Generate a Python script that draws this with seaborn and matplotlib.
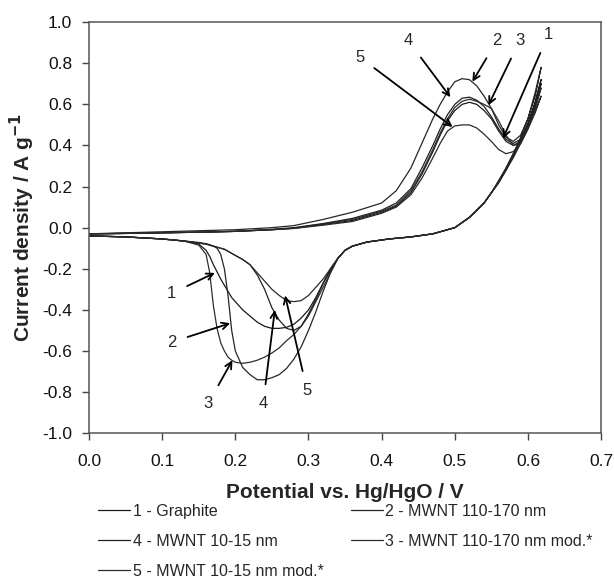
import numpy as np
import pandas as pd
import matplotlib
matplotlib.use('Agg')
import matplotlib.pyplot as plt
from matplotlib.lines import Line2D
import seaborn as sns

# ── Données ────────────────────────────────────────────────
# balayage aller (anodique) : grille commune de potentiel
fwd_x = [0.0, 0.05, 0.10, 0.15, 0.20, 0.25, 0.28, 0.32, 0.36, 0.40, 0.42, 0.44, 0.455,
         0.47, 0.48, 0.49, 0.50, 0.51, 0.52, 0.53, 0.54, 0.55, 0.56, 0.57, 0.58, 0.59,
         0.60, 0.61, 0.618]
# balayage retour (cathodique)
rev_x = [0.618, 0.61, 0.60, 0.59, 0.58, 0.57, 0.56, 0.55, 0.54, 0.52, 0.50, 0.47, 0.44,
         0.41, 0.38, 0.36, 0.35, 0.34, 0.33, 0.32, 0.31, 0.30, 0.29, 0.28, 0.27, 0.26,
         0.25, 0.24, 0.23, 0.22, 0.21, 0.20, 0.195, 0.19, 0.185, 0.18, 0.175, 0.17,
         0.165, 0.16, 0.15, 0.13, 0.10, 0.05, 0.0]

# 1 - Graphite
fwd_1 = [-0.03, -0.028, -0.025, -0.022, -0.018, -0.01, -0.003, 0.015, 0.035, 0.075, 0.105,
         0.17, 0.26, 0.37, 0.45, 0.52, 0.57, 0.60, 0.61, 0.60, 0.57, 0.53, 0.47, 0.42,
         0.40, 0.42, 0.50, 0.61, 0.72]
rev_1 = [0.72, 0.61, 0.51, 0.43, 0.36, 0.29, 0.23, 0.17, 0.12, 0.05, 0.0, -0.03, -0.045,
         -0.055, -0.07, -0.09, -0.11, -0.15, -0.20, -0.27, -0.34, -0.40, -0.44, -0.47,
         -0.485, -0.49, -0.49, -0.48, -0.46, -0.43, -0.40, -0.36, -0.34, -0.31, -0.28,
         -0.25, -0.215, -0.18, -0.14, -0.11, -0.08, -0.065, -0.055, -0.045, -0.04]

# 2 - MWNT 110-170 nm
fwd_2 = [-0.03, -0.025, -0.02, -0.015, -0.01, 0.0, 0.01, 0.04, 0.075, 0.12, 0.18, 0.29,
         0.41, 0.53, 0.60, 0.66, 0.71, 0.725, 0.72, 0.69, 0.64, 0.58, 0.50, 0.44, 0.42,
         0.45, 0.53, 0.64, 0.78]
rev_2 = [0.78, 0.66, 0.53, 0.44, 0.36, 0.29, 0.22, 0.17, 0.12, 0.05, 0.0, -0.03, -0.045,
         -0.055, -0.07, -0.09, -0.11, -0.15, -0.22, -0.31, -0.41, -0.50, -0.58, -0.64,
         -0.685, -0.715, -0.73, -0.74, -0.74, -0.715, -0.68, -0.60, -0.50, -0.33, -0.20,
         -0.13, -0.10, -0.09, -0.083, -0.078, -0.072, -0.065, -0.055, -0.045, -0.04]

# 3 - MWNT 110-170 nm mod.*
fwd_3 = [-0.03, -0.028, -0.025, -0.022, -0.018, -0.01, -0.002, 0.018, 0.04, 0.08, 0.11,
         0.18, 0.27, 0.38, 0.46, 0.53, 0.585, 0.615, 0.625, 0.615, 0.60, 0.58, 0.52, 0.45,
         0.40, 0.41, 0.48, 0.58, 0.68]
rev_3 = [0.68, 0.59, 0.50, 0.42, 0.35, 0.28, 0.22, 0.17, 0.12, 0.05, 0.0, -0.03, -0.045,
         -0.055, -0.07, -0.09, -0.11, -0.15, -0.22, -0.29, -0.36, -0.43, -0.48, -0.52,
         -0.55, -0.585, -0.61, -0.63, -0.645, -0.655, -0.66, -0.655, -0.645, -0.63, -0.60,
         -0.56, -0.49, -0.38, -0.22, -0.13, -0.085, -0.065, -0.055, -0.045, -0.04]

# 4 - MWNT 10-15 nm
fwd_4 = [-0.03, -0.028, -0.025, -0.022, -0.018, -0.008, 0.0, 0.02, 0.045, 0.085, 0.12,
         0.19, 0.29, 0.40, 0.48, 0.55, 0.60, 0.63, 0.635, 0.62, 0.59, 0.54, 0.48, 0.43,
         0.41, 0.43, 0.50, 0.60, 0.70]
rev_4 = [0.70, 0.60, 0.50, 0.42, 0.35, 0.28, 0.22, 0.17, 0.12, 0.05, 0.0, -0.03, -0.045,
         -0.055, -0.07, -0.09, -0.11, -0.15, -0.21, -0.27, -0.35, -0.42, -0.48, -0.50,
         -0.49, -0.45, -0.39, -0.30, -0.23, -0.18, -0.155, -0.135, -0.125, -0.115, -0.105,
         -0.10, -0.095, -0.09, -0.085, -0.08, -0.075, -0.065, -0.055, -0.045, -0.04]

# 5 - MWNT 10-15 nm mod.*
fwd_5 = [-0.03, -0.028, -0.025, -0.022, -0.018, -0.01, -0.004, 0.012, 0.03, 0.07, 0.10,
         0.16, 0.24, 0.34, 0.41, 0.47, 0.495, 0.50, 0.50, 0.485, 0.455, 0.42, 0.38, 0.36,
         0.37, 0.41, 0.48, 0.56, 0.64]
rev_5 = [0.64, 0.57, 0.49, 0.41, 0.34, 0.28, 0.22, 0.17, 0.12, 0.05, 0.0, -0.03, -0.045,
         -0.055, -0.07, -0.09, -0.11, -0.15, -0.20, -0.25, -0.29, -0.33, -0.355, -0.36,
         -0.355, -0.33, -0.30, -0.26, -0.22, -0.18, -0.155, -0.135, -0.125, -0.115, -0.105,
         -0.10, -0.095, -0.09, -0.085, -0.08, -0.075, -0.065, -0.055, -0.045, -0.04]

labels = ['1 - Graphite', '2 - MWNT 110-170 nm', '3 - MWNT 110-170 nm mod.*',
          '4 - MWNT 10-15 nm', '5 - MWNT 10-15 nm mod.*']
fwd_all = [fwd_1, fwd_2, fwd_3, fwd_4, fwd_5]
rev_all = [rev_1, rev_2, rev_3, rev_4, rev_5]
colors = ['#1a1a1a', '#262626', '#2e2e2e', '#202020', '#2a2a2a']

x_ticks = [0.0, 0.1, 0.2, 0.3, 0.4, 0.5, 0.6, 0.7]
y_ticks = [-1.0, -0.8, -0.6, -0.4, -0.2, 0.0, 0.2, 0.4, 0.6, 0.8, 1.0]

# annotations : (texte, position du texte, pointe de la flèche)
ann_num  = ['1', '2', '3', '4', '5', '1', '2', '3', '4', '5']
ann_text = [(0.628, 0.94), (0.558, 0.912), (0.589, 0.912), (0.436, 0.912), (0.370, 0.83),
            (0.113, -0.32), (0.113, -0.557), (0.163, -0.855), (0.238, -0.855), (0.298, -0.79)]
ann_tip  = [(0.566, 0.435), (0.524, 0.71), (0.546, 0.596), (0.494, 0.635), (0.497, 0.49),
            (0.172, -0.22), (0.193, -0.465), (0.196, -0.645), (0.254, -0.40), (0.268, -0.33)]

# ── Table longue pour seaborn ──────────────────────────────
rows = []
for lab, fy, ry in zip(labels, fwd_all, rev_all):
    xs = fwd_x + rev_x
    ys = fy + ry
    for i, (x, y) in enumerate(zip(xs, ys)):
        rows.append({'E': x, 'j': y, 'courbe': lab, 'ordre': i})
df = pd.DataFrame(rows)

sns.set_style('ticks')
plt.rcParams['font.family'] = ['Liberation Sans', 'DejaVu Sans']

fig = plt.figure(figsize=(6.14, 5.83), dpi=100)
ax = fig.add_axes([0.145, 0.257, 0.834, 0.705])

sns.lineplot(data=df, x='E', y='j', hue='courbe', hue_order=labels,
             palette=colors, sort=False, estimator=None, lw=0.9,
             legend=False, ax=ax)

ax.set_xlim(0.0, 0.7)
ax.set_ylim(-1.0, 1.0)
ax.set_xticks(x_ticks)
ax.set_yticks(y_ticks)
ax.set_xticklabels([f'{v:.1f}' for v in x_ticks])
ax.set_yticklabels([f'{v:.1f}' for v in y_ticks])
ax.tick_params(direction='out', length=5, width=1, colors='#444444',
               labelsize=12.5, labelcolor='#111111', pad=7)
ax.tick_params(axis='x', pad=10)
for sp in ax.spines.values():
    sp.set_color('#555555')
    sp.set_linewidth(1.1)
    sp.set_visible(True)

ax.set_xlabel('Potential vs. Hg/HgO / V', fontsize=15, fontweight='bold', labelpad=10)
ax.set_ylabel('Current density / A g$^{\\mathbf{-1}}$', fontsize=15,
              fontweight='bold', labelpad=4)

for num, tpos, tip in zip(ann_num, ann_text, ann_tip):
    ax.annotate(num, xy=tip, xytext=tpos, fontsize=12, ha='center', va='center',
                arrowprops=dict(arrowstyle='->', lw=1.3, color='black',
                                shrinkA=6, shrinkB=0))

# légende sous le graphique, 2 colonnes
order = [0, 3, 4, 1, 2]
handles = [Line2D([], [], color=colors[i], lw=0.9) for i in order]
fig.legend(handles, [labels[i] for i in order], ncol=2, frameon=False,
           loc='upper left', bbox_to_anchor=(0.16, 0.136), fontsize=11.5,
           handlelength=2.0, handletextpad=0.15, labelspacing=0.95,
           columnspacing=1.7, borderaxespad=0, borderpad=0)

fig.savefig('out.png', dpi=100)
